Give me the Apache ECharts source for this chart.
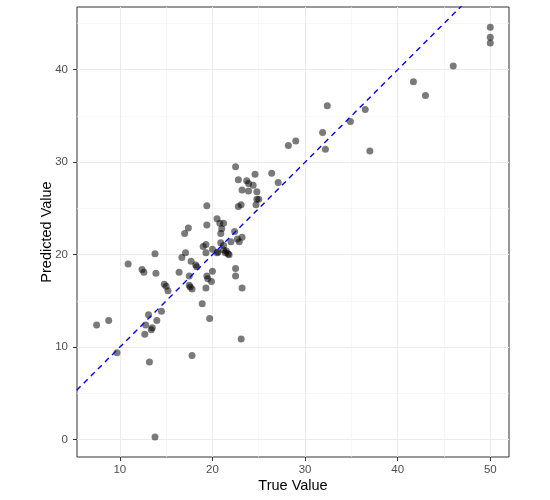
<!DOCTYPE html>
<html>
<head>
<meta charset="utf-8">
<script src="https://cdn.jsdelivr.net/npm/echarts@6/dist/echarts.min.js"></script>
<style>
    html, body { margin: 0; padding: 0; background: #fff; }
    #chart { width: 550px; height: 500px; }
</style>
</head>
<body>
<div id="chart"></div>
<script>
// values
const trueValues = [7.5, 8.8, 9.7, 10.9, 12.4, 12.6, 13.8, 13.9, 13.1, 12.8,
    12.7, 13.5, 13.4, 14.0, 14.5, 13.2, 13.8, 14.8, 15.0, 15.2,
    16.4, 16.7, 17.1, 17.7, 18.2, 18.3, 17.5, 17.5, 17.6, 17.8,
    17.8, 18.9, 19.7, 19.0, 19.3, 19.3, 19.4, 19.5, 19.9, 19.3,
    20.0, 20.0, 17.0, 17.4, 19.4, 19.4, 20.5, 20.8, 21.2, 21.0,
    20.9, 22.4, 22.7, 23.2, 22.9, 22.0, 20.9, 21.2, 21.2, 20.5,
    20.6, 21.4, 21.7, 21.5, 22.5, 22.5, 23.2, 23.1, 22.5, 24.6,
    26.4, 27.1, 22.8, 23.7, 23.9, 24.4, 23.2, 23.9, 24.8, 24.8,
    24.7, 22.8, 23.1, 28.2, 29.0, 31.9, 32.2, 32.4, 34.9, 36.5,
    37.0, 41.7, 43.0, 46.0, 50, 50, 50, 25.0, 21.8];
const predictedValues = [12.4, 12.9, 9.4, 19.0, 18.4, 18.1, 20.1, 18.0, 13.5, 12.4,
    11.4, 12.1, 11.9, 12.9, 13.9, 8.4, 0.3, 16.8, 16.6, 16.1,
    18.1, 19.7, 20.2, 19.3, 18.9, 18.7, 17.7, 16.7, 16.5, 16.3,
    9.1, 14.7, 13.1, 20.9, 21.1, 20.2, 17.7, 17.4, 17.1, 16.4,
    18.2, 20.6, 22.3, 22.9, 23.2, 25.3, 23.9, 23.4, 23.4, 22.8,
    22.3, 22.5, 21.7, 21.9, 21.4, 21.4, 21.3, 20.5, 21.0, 20.2,
    20.3, 20.2, 20.1, 20.4, 18.5, 17.7, 16.4, 10.9, 29.5, 28.7,
    28.8, 27.8, 28.1, 28.0, 27.7, 27.5, 27.0, 26.9, 26.8, 26.0,
    25.4, 25.2, 25.4, 31.8, 32.3, 33.2, 31.4, 36.1, 34.4, 35.7,
    31.2, 38.7, 37.2, 40.4, 44.6, 43.5, 42.9, 26.0, 20.0];
const xTicks = [10, 20, 30, 40, 50];
const yTicks = [0, 10, 20, 30, 40];
const xMinorTicks = [15, 25, 35, 45];
const yMinorTicks = [5, 15, 25, 35, 45];
const identityLine = [0, 60];

const font = '"Liberation Sans", Arial, sans-serif';
const points = trueValues.map((v, i) => [v, predictedValues[i]]);

let myChart = echarts.init(document.getElementById('chart'));
myChart.setOption({
    animation: false,
    grid: {
        left: 77,
        right: 41,
        top: 7,
        bottom: 43,
        show: true,
        backgroundColor: '#fff',
        borderColor: '#333333',
        borderWidth: 1,
    },
    xAxis: [
        {
            type: 'value',
            position: 'bottom',
            min: 5.38,
            max: 52.02,
            name: 'True Value',
            nameLocation: 'middle',
            nameGap: 21,
            nameMoveOverlap: false,
            nameTextStyle: { color: '#000', fontSize: 14.5, fontFamily: font },
            axisLine: { show: false, onZero: false },
            axisTick: { show: true, length: 4, customValues: xTicks, lineStyle: { color: '#333333', width: 1 } },
            axisLabel: { customValues: xTicks, color: '#4D4D4D', fontSize: 11.5, fontFamily: font, margin: 7 },
            splitLine: { show: true, lineStyle: { color: '#EBEBEB', width: 1 } },
        },
        {
            // minor grid lines only
            type: 'value',
            position: 'top',
            min: 5.38,
            max: 52.02,
            axisLine: { show: false, onZero: false },
            axisTick: { show: false, customValues: xMinorTicks },
            axisLabel: { show: false, customValues: xMinorTicks },
            splitLine: { show: true, lineStyle: { color: '#F2F2F2', width: 0.6 } },
        },
    ],
    yAxis: [
        {
            type: 'value',
            position: 'left',
            min: -1.87,
            max: 46.78,
            name: 'Predicted Value',
            nameLocation: 'middle',
            nameGap: 23,
            nameMoveOverlap: false,
            nameTextStyle: { color: '#000', fontSize: 14.5, fontFamily: font },
            axisLine: { show: false, onZero: false },
            axisTick: { show: true, length: 4, customValues: yTicks, lineStyle: { color: '#333333', width: 1 } },
            axisLabel: { customValues: yTicks, color: '#4D4D4D', fontSize: 11.5, fontFamily: font, margin: 9 },
            splitLine: { show: true, lineStyle: { color: '#EBEBEB', width: 1 } },
        },
        {
            // minor grid lines only
            type: 'value',
            position: 'right',
            min: -1.87,
            max: 46.78,
            axisLine: { show: false, onZero: false },
            axisTick: { show: false, customValues: yMinorTicks },
            axisLabel: { show: false, customValues: yMinorTicks },
            splitLine: { show: true, lineStyle: { color: '#F2F2F2', width: 0.6 } },
        },
    ],
    series: [
        {
            type: 'scatter',
            data: points,
            symbolSize: 7,
            itemStyle: { color: 'rgba(0,0,0,0.65)' },
            z: 2,
        },
        {
            // y = x reference line
            type: 'line',
            data: identityLine.map(v => [v, v]),
            symbol: 'none',
            clip: true,
            lineStyle: { color: '#0000FF', width: 1.4, type: [5.5, 4.5] },
            z: 3,
        },
    ],
});
</script>
</body>
</html>
